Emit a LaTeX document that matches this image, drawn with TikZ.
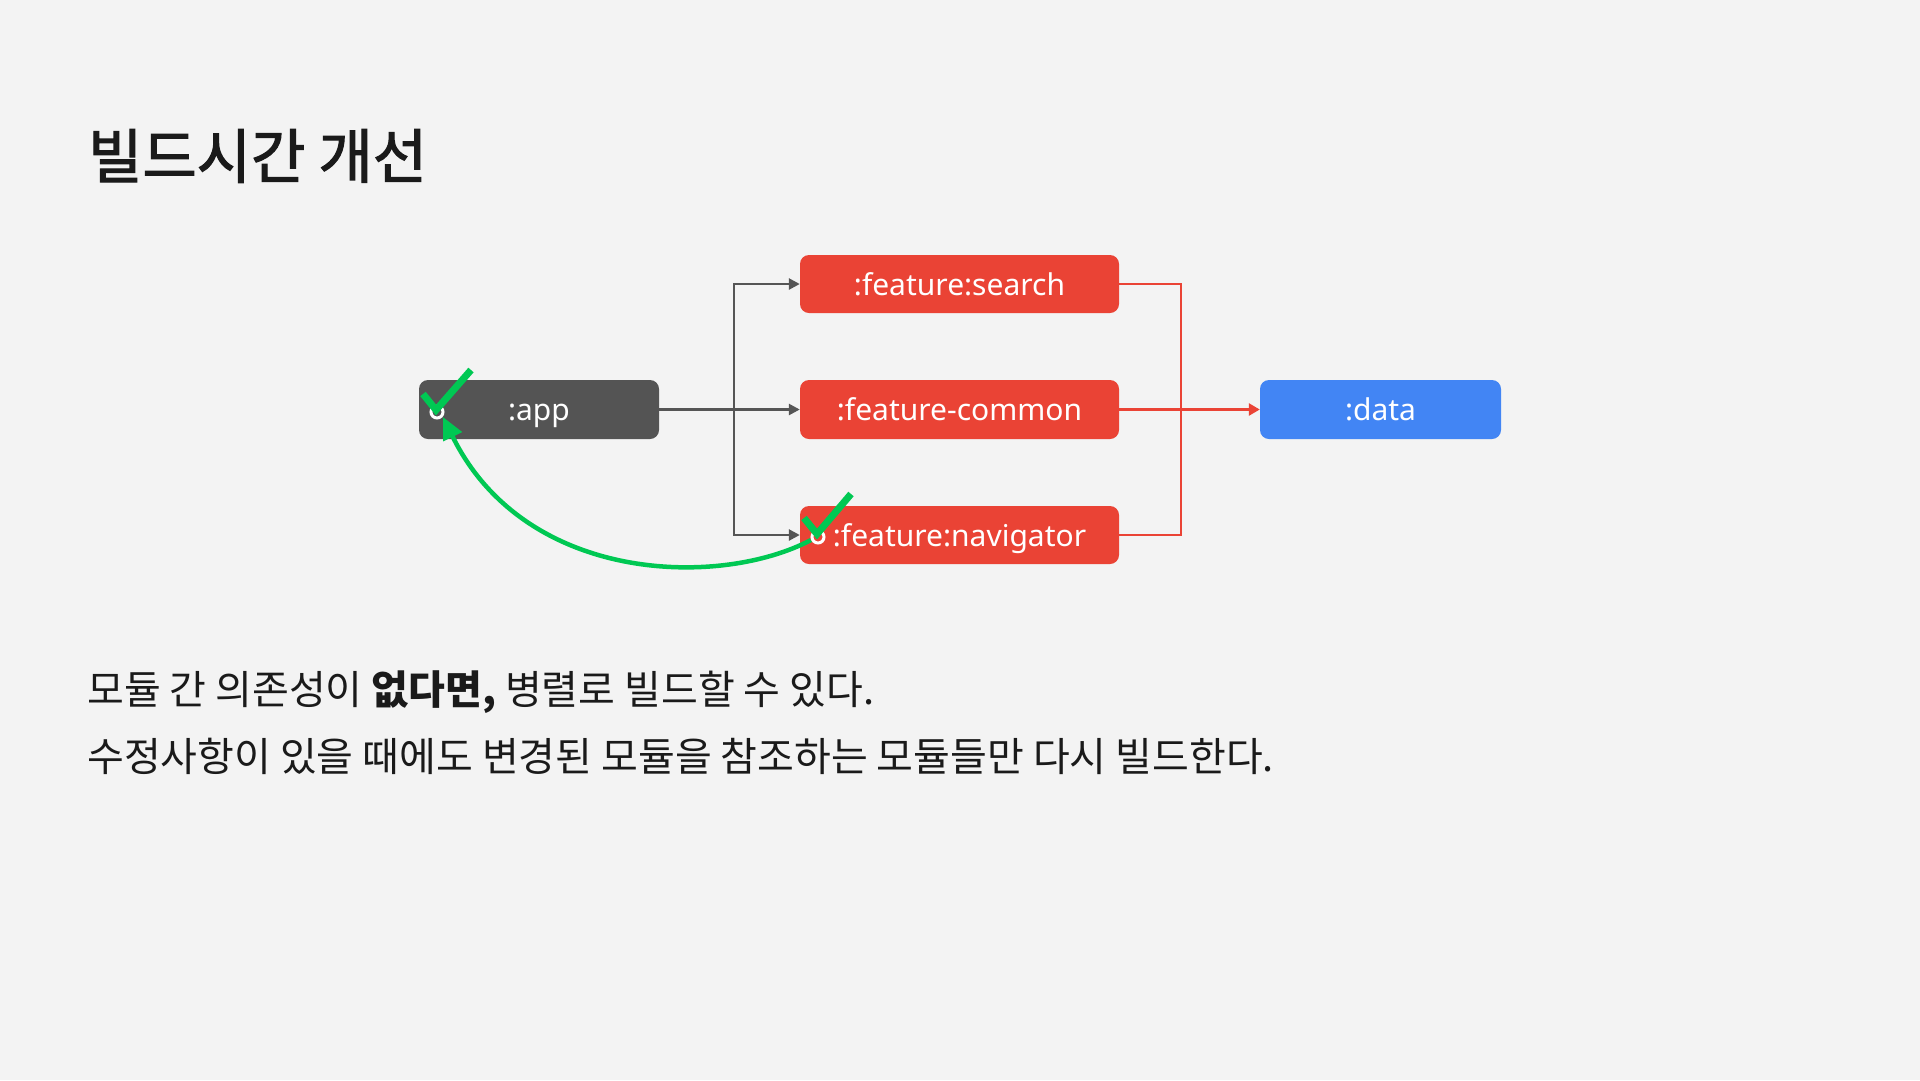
\documentclass[tikz,border=0pt]{standalone}
\usepackage{fontspec}
\setmainfont{Noto Sans}
\newfontfamily\kr{Noto Sans CJK KR}
\newfontfamily\krmed[FakeBold=2]{Noto Sans CJK KR}
\usetikzlibrary{arrows.meta}
\definecolor{bg}{HTML}{F3F3F3}
\definecolor{gbox}{HTML}{545454}
\definecolor{rbox}{HTML}{EA4335}
\definecolor{bbox}{HTML}{4285F4}
\definecolor{gline}{HTML}{555555}
\definecolor{grn}{HTML}{00C853}
\definecolor{ink}{HTML}{1A1A1A}
\tikzset{
  modbox/.style={rounded corners=9pt, inner sep=0pt, text=white,
    font=\fontsize{30}{34}\selectfont, anchor=center, text height=24pt, text depth=2pt},
  glink/.style={draw=gline, line width=2.6pt},
  garrow/.style={glink, -{Triangle[length=11pt,width=11pt]}},
  rlink/.style={draw=rbox, line width=2.6pt},
  rarrow/.style={rlink, -{Triangle[length=11pt,width=12pt]}},
  greenarr/.style={draw=grn, line width=4.5pt, -{Triangle[length=22pt,width=20pt]}},
  tick/.style={draw=grn, line width=7pt, line join=miter},
  ring/.style={draw=white, line width=3pt},
  bodytxt/.style={anchor=base west, inner sep=0pt, text=ink, font=\kr\fontsize{40}{46}\selectfont}
}
\begin{document}
\begin{tikzpicture}[x=1pt,y=-1pt]
\fill[bg] (0,0) rectangle (1920,1080);
\useasboundingbox (0,0) rectangle (1920,1080);

\node[anchor=base west, inner sep=0pt, text=ink, font=\krmed\fontsize{59}{64}\selectfont] (title) at (88,178) {빌드시간 개선};

\node[modbox, fill=gbox, minimum width=240pt, minimum height=59pt] (app) at (539,409.5) {:app};
\node[modbox, fill=rbox, minimum width=319pt, minimum height=58pt] (search) at (959.5,284) {:feature:search};
\node[modbox, fill=rbox, minimum width=319pt, minimum height=59pt] (common) at (959.5,409.5) {:feature-common};
\node[modbox, fill=rbox, minimum width=319pt, minimum height=58pt] (nav) at (959.5,535) {:feature:navigator};
\node[modbox, fill=bbox, minimum width=241pt, minimum height=59pt] (data) at (1380.5,409.5) {:data};

\coordinate (gsplit) at (734,409.5);
\coordinate (rjoin) at (1181,409.5);
\draw[garrow] (app.east) -- (common.west);
\draw[garrow] (gsplit) |- (search.west);
\draw[garrow] (gsplit) |- (nav.west);
\draw[rlink] (search.east) -| (rjoin);
\draw[rlink] (nav.east) -| (rjoin);
\draw[rarrow] (common.east) -- (data.west);

\coordinate (navdot) at (818,537);
\coordinate (appdot) at (437,412);
\coordinate (navstart) at (811,540);
\coordinate (apptip) at (443,417);
\draw[greenarr] (navstart) .. controls (720,588) and (525,584) .. (apptip);

\draw[ring] (appdot) circle (6pt);
\draw[ring] (navdot) circle (6pt);
\coordinate (ta1) at (423,394);
\coordinate (ta2) at (436,410);
\coordinate (ta3) at (471,370);
\draw[tick] (ta1) -- (ta2) -- (ta3);
\coordinate (tn1) at (804,518);
\coordinate (tn2) at (817,534);
\coordinate (tn3) at (851,494);
\draw[tick] (tn1) -- (tn2) -- (tn3);

\node[bodytxt] (line1) at (87,704) {모듈 간 의존성이 \textbf{없다면,} 병렬로 빌드할 수 있다.};
\node[bodytxt] (line2) at (87,771) {수정사항이 있을 때에도 변경된 모듈을 참조하는 모듈들만 다시 빌드한다.};
\end{tikzpicture}
\end{document}
